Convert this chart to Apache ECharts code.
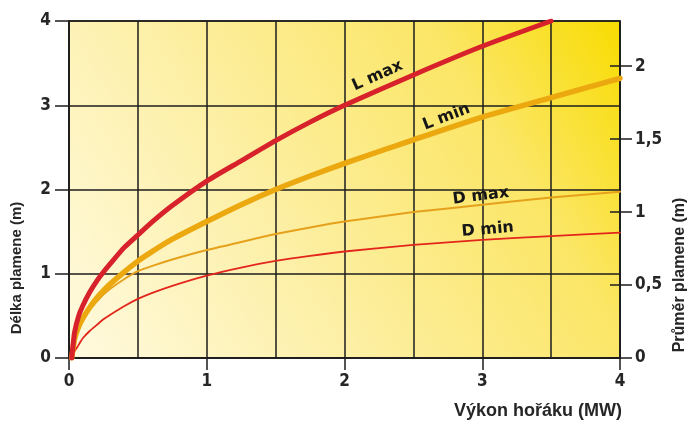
<!DOCTYPE html>
<html>
<head>
<meta charset="utf-8">
<script src="https://cdn.jsdelivr.net/npm/echarts@6/dist/echarts.min.js"></script>
<style>html,body{margin:0;padding:0;background:#fff;}#c{width:692px;height:423px;}</style>
</head>
<body>
<div id="c"></div>
<script>
// Burner power (MW)
const xValues = [0.02, 0.04, 0.07, 0.1, 0.15, 0.2, 0.25, 0.3, 0.4, 0.5, 0.6, 0.75, 1, 1.25, 1.5, 1.75, 2, 2.5, 3, 3.5, 4];
// Flame length (m), left axis
const lMax = [0, 0.3, 0.5, 0.62, 0.78, 0.91, 1.02, 1.12, 1.31, 1.46, 1.61, 1.81, 2.1, 2.34, 2.58, 2.8, 3.0, 3.36, 3.70, 4.0];
const lMin = [0, 0.22, 0.37, 0.47, 0.6, 0.71, 0.80, 0.88, 1.02, 1.15, 1.26, 1.41, 1.62, 1.82, 2.0, 2.16, 2.31, 2.59, 2.86, 3.09, 3.32];
// Flame diameter (m), right axis
const dMax = [0, 0.115, 0.195, 0.26, 0.33, 0.385, 0.435, 0.475, 0.54, 0.595, 0.63, 0.675, 0.74, 0.795, 0.85, 0.895, 0.935, 1.0, 1.05, 1.10, 1.14];
const dMin = [0, 0.046, 0.09, 0.135, 0.185, 0.225, 0.265, 0.297, 0.355, 0.405, 0.445, 0.495, 0.565, 0.62, 0.665, 0.70, 0.73, 0.775, 0.81, 0.835, 0.86];
// Tick labels
const rightTicks = [0, 0.5, 1, 1.5, 2];
// Curve labels
const curveNames = ['L max', 'L min', 'D max', 'D min'];
const curveLabelAt = [[2.24, 3.35], [2.74, 2.86], [2.99, 1.11], [3.04, 0.88]];
const curveLabelAngle = [24, 21, 7, 5];

const pairs = (ys) => ys.map((y, i) => [xValues[i], y]);

const chart = echarts.init(document.getElementById('c'), null, {renderer: 'canvas'});
const black = '#1c1c1c';
const tickFont = {color: '#262626', fontSize: 17, fontWeight: 'bold',
  fontFamily: "'Liberation Sans Narrow','DejaVu Sans Condensed','Liberation Sans',sans-serif"};
const titleFont = {fill: '#262626', fontWeight: 'bold', fontFamily: "'Liberation Sans',Arial,sans-serif"};

function mk(i) {
  return {
    data: [{
      coord: curveLabelAt[i],
      symbol: 'circle', symbolSize: 0,
      label: {
        show: true, formatter: curveNames[i], position: 'inside', rotate: curveLabelAngle[i],
        color: '#161616', fontSize: 16, fontWeight: 'bold',
        fontFamily: "'DejaVu Sans',sans-serif"
      }
    }]
  };
}

const colors = ['#d8222b', '#eba80f', '#e5a11c', '#e3261c'];
const widths = [5, 5.5, 2, 1.8];
const sets = [lMax, lMin, dMax, dMin];
const yIdx = [0, 0, 1, 1];

const series = sets.map((d, i) => ({
  type: 'line', name: curveNames[i], data: pairs(d), yAxisIndex: yIdx[i],
  smooth: 0.2, showSymbol: false, symbol: 'none',
  lineStyle: {color: colors[i], width: widths[i], cap: 'round', join: 'round'},
  markPoint: mk(i),
  z: 3 + (3 - i)
}));

const axisLineStyle = {color: black, width: 1.5};

chart.setOption({
  animation: false,
  grid: {
    left: 69, right: 72, top: 21, bottom: 65, show: true,
    borderColor: black, borderWidth: 1.5,
    backgroundColor: new echarts.graphic.LinearGradient(0, 1, 1, 0, [
      {offset: 0, color: '#fffae0'},
      {offset: 0.35, color: '#fdf0aa'},
      {offset: 0.75, color: '#fbe665'},
      {offset: 1, color: '#f8dc00'}
    ])
  },
  xAxis: [
    {
      type: 'value', min: 0, max: 4, interval: 0.5,
      axisLine: {show: true, lineStyle: axisLineStyle},
      axisTick: {show: false},
      axisLabel: Object.assign({margin: 15,
        formatter: (v) => (Math.abs(v - Math.round(v)) < 1e-9 ? String(v) : '')}, tickFont),
      splitLine: {show: true, lineStyle: axisLineStyle}
    },
    {
      type: 'value', min: 0, max: 4, interval: 1, position: 'bottom',
      axisLine: {show: false, onZero: false},
      axisTick: {show: true, length: 12, lineStyle: axisLineStyle},
      axisLabel: {show: false},
      splitLine: {show: false}
    }
  ],
  yAxis: [
    {
      type: 'value', min: 0, max: 4, interval: 1, position: 'left',
      axisLine: {show: true, lineStyle: axisLineStyle},
      axisTick: {show: true, length: 14, lineStyle: axisLineStyle},
      axisLabel: Object.assign({margin: 18}, tickFont),
      splitLine: {show: true, lineStyle: axisLineStyle}
    },
    {
      type: 'value', min: 0, max: 2.31, position: 'right',
      axisLine: {show: true, onZero: false, lineStyle: axisLineStyle},
      axisTick: {show: true, length: 12, customValues: rightTicks, lineStyle: axisLineStyle},
      axisLabel: Object.assign({customValues: rightTicks, margin: 15,
        formatter: (v) => String(v).replace('.', ',')}, tickFont),
      splitLine: {show: false}
    },
    {
      type: 'value', min: 0, max: 2.31, position: 'right',
      axisLine: {show: false, onZero: false},
      axisTick: {show: true, inside: true, length: 10, customValues: rightTicks, lineStyle: axisLineStyle},
      axisLabel: {show: false},
      splitLine: {show: false}
    }
  ],
  graphic: [
    {type: 'text', x: 622, y: 411,
      style: Object.assign({text: 'Výkon hořáku (MW)', align: 'right', verticalAlign: 'middle', fontSize: 18}, titleFont)},
    {type: 'text', x: 17, y: 268, rotation: Math.PI / 2,
      style: Object.assign({text: 'Délka plamene (m)', align: 'center', verticalAlign: 'middle', fontSize: 15}, titleFont)},
    {type: 'text', x: 680, y: 275, rotation: Math.PI / 2,
      style: Object.assign({text: 'Průměr plamene (m)', align: 'center', verticalAlign: 'middle', fontSize: 16}, titleFont)}
  ],
  series: series
});
</script>
</body>
</html>
